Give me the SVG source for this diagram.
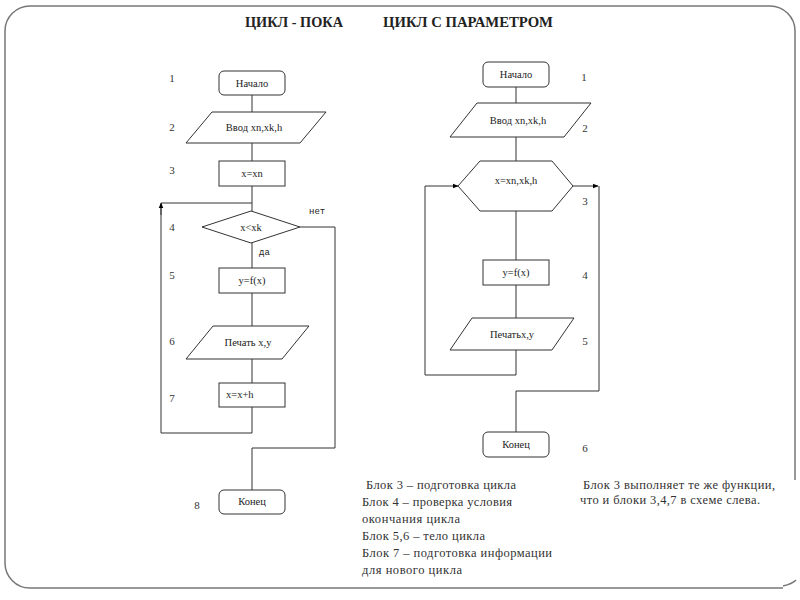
<svg xmlns="http://www.w3.org/2000/svg" width="800" height="600" viewBox="0 0 800 600">
<defs>
<marker id="arr" viewBox="0 0 10 10" refX="9" refY="5" markerWidth="6" markerHeight="6" orient="auto" markerUnits="userSpaceOnUse"><path d="M0,1 L10,5 L0,9 z" fill="#000"/></marker>
</defs>
<style>
.s{fill:#fff;stroke:#333;stroke-width:1}
.c{fill:none;stroke:#333;stroke-width:1}
.t{font-family:"Liberation Serif","DejaVu Serif",serif;font-size:10.5px;fill:#222;text-anchor:middle}
.n{font-family:"Liberation Serif","DejaVu Serif",serif;font-size:11px;fill:#333;text-anchor:middle}
.h{font-family:"Liberation Serif","DejaVu Serif",serif;font-size:14.5px;font-weight:bold;fill:#222}
.b{font-family:"Liberation Serif","DejaVu Serif",serif;font-size:12.5px;fill:#333}
.m{font-family:"Liberation Mono","DejaVu Sans Mono",monospace;font-size:9px;fill:#222}
</style>
<rect width="800" height="600" fill="#fff"/>
<path d="M30,6 H770 A25,25 0 0 1 795,31 V480 M783,586 Q792,584 796,580 M783,588 H30 A25,25 0 0 1 5,563 V31 A25,25 0 0 1 30,6" fill="none" stroke="#777" stroke-width="1.5"/>
<text class="h" x="245" y="27" textLength="98" lengthAdjust="spacingAndGlyphs">ЦИКЛ - ПОКА</text>
<text class="h" x="383" y="27" textLength="170" lengthAdjust="spacingAndGlyphs">ЦИКЛ С ПАРАМЕТРОМ</text>

<g id="connectors">
<path class="c" d="M252,95 V112 M252,143 V161 M252,186 V211 M252,243 V268 M252,293 V326 M252,359 V383 M252,407 V433 H161 V204"/>
<path class="c" d="M161,203 H252" />
<path class="c" d="M161,215 V203" marker-end="url(#arr)"/>
<path class="c" d="M300,227 H335 V448 H252 V490"/>
<path class="c" d="M516,87 V103 M516,137 V161 M516,211 V260 M516,285 V318 M516,350 V375 H425 V186"/>
<path class="c" d="M425,186 H458" marker-end="url(#arr)"/>
<path class="c" d="M573,186 H598" marker-end="url(#arr)"/>
<path class="c" d="M599,186 V391 H516 V432"/>
</g>

<g id="l1"><rect class="s" x="219" y="71" width="66" height="24" rx="5"/><text class="t" x="252" y="87">Начало</text></g>
<g id="l2"><polygon class="s" points="212,112 326,112 300,143 186,143"/><text class="t" x="254" y="131">Ввод xn,xk,h</text></g>
<g id="l3"><rect class="s" x="219" y="161" width="66" height="25"/><text class="t" x="252" y="177">x=xn</text></g>
<g id="l4"><polygon class="s" points="202,227 251,211 300,227 251,243"/><text class="t" x="251" y="231">x&lt;xk</text></g>
<g id="l5"><rect class="s" x="219" y="268" width="66" height="25"/><text class="t" x="252" y="284">y=f(x)</text></g>
<g id="l6"><polygon class="s" points="213,326 309,326 282,359 186,359"/><text class="t" x="248" y="346">Печать x,y</text></g>
<g id="l7"><rect class="s" x="219" y="383" width="66" height="24"/><text class="t" x="226" y="398" style="text-anchor:start">x=x+h</text></g>
<g id="l8"><rect class="s" x="219" y="490" width="66" height="24" rx="5"/><text class="t" x="252" y="505">Конец</text></g>
<text class="m" x="309" y="214">нет</text>
<text class="m" x="259" y="255">да</text>

<text class="n" x="172" y="82">1</text>
<text class="n" x="172" y="131">2</text>
<text class="n" x="172" y="174">3</text>
<text class="n" x="172" y="231">4</text>
<text class="n" x="172" y="279">5</text>
<text class="n" x="172" y="345">6</text>
<text class="n" x="172" y="402">7</text>
<text class="n" x="197" y="509">8</text>

<g id="r1"><rect class="s" x="483" y="62" width="66" height="25" rx="5"/><text class="t" x="516" y="78">Начало</text></g>
<g id="r2"><polygon class="s" points="477,103 591,103 564,137 450,137"/><text class="t" x="518" y="124">Ввод xn,xk,h</text></g>
<g id="r3"><polygon class="s" points="458,186 480,161 552,161 573,186 552,211 480,211"/><text class="t" x="516" y="184">x=xn,xk,h</text></g>
<g id="r4"><rect class="s" x="483" y="260" width="66" height="25"/><text class="t" x="516" y="276">y=f(x)</text></g>
<g id="r5"><polygon class="s" points="472,318 574,318 552,350 450,350"/><text class="t" x="512" y="338">Печатьx,y</text></g>
<g id="r6"><rect class="s" x="483" y="432" width="66" height="25" rx="5"/><text class="t" x="516" y="448">Конец</text></g>

<text class="n" x="584" y="81">1</text>
<text class="n" x="585" y="132">2</text>
<text class="n" x="585" y="205">3</text>
<text class="n" x="585" y="279">4</text>
<text class="n" x="585" y="345">5</text>
<text class="n" x="585" y="452">6</text>

<text class="b" x="366" y="489" textLength="150" lengthAdjust="spacing">Блок 3 – подготовка цикла</text>
<text class="b" x="362" y="506" textLength="150" lengthAdjust="spacing">Блок 4 – проверка условия</text>
<text class="b" x="362" y="523" textLength="98" lengthAdjust="spacing">окончания цикла</text>
<text class="b" x="362" y="540" textLength="123" lengthAdjust="spacing">Блок 5,6 – тело цикла</text>
<text class="b" x="362" y="557" textLength="190" lengthAdjust="spacing">Блок 7 – подготовка информации</text>
<text class="b" x="362" y="574" textLength="100" lengthAdjust="spacing">для нового цикла</text>
<text class="b" x="583" y="489" textLength="192" lengthAdjust="spacing">Блок 3 выполняет те же функции,</text>
<text class="b" x="580" y="504" textLength="180" lengthAdjust="spacing">что и блоки 3,4,7 в схеме слева.</text>
</svg>
